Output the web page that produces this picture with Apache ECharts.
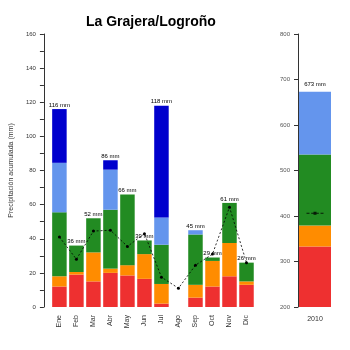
<!DOCTYPE html>
<html>
<head>
<meta charset="utf-8">
<script src="https://cdn.jsdelivr.net/npm/echarts@6/dist/echarts.min.js"></script>
<style>html,body{margin:0;padding:0;background:#fff}#c{width:350px;height:350px}</style>
</head>
<body>
<div id="c"></div>
<script>
var months = ['Ene','Feb','Mar','Abr','May','Jun','Jul','Ago','Sep','Oct','Nov','Dic'];
var redVals    = [12, 19, 15, 20, 18.5, 16.5, 2, 0, 5.5, 12, 18, 13];
var orangeVals = [6, 1.5, 17, 2.5, 6, 14.5, 11.5, 0, 7.5, 15, 19.5, 2];
var greenVals  = [37.5, 15.5, 20, 34.5, 41.5, 8, 23, 0, 29.5, 2, 23.5, 11];
var lblueVals  = [29, 0, 0, 23.5, 0, 0, 16, 0, 2.5, 0, 0, 0];
var dblueVals  = [31.5, 0, 0, 5.5, 0, 0, 65.5, 0, 0, 0, 0, 0];
var totals     = [116, 36, 52, 86, 66, 39, 118, 0, 45, 29, 61, 26];
var meanVals   = [41, 28, 44.5, 45, 35.5, 43, 17.5, 11, 24.5, 31, 58.5, 26];

var yearCat = ['2010'];
var yearRed = [333], yearOrange = [46], yearGreen = [156], yearLblue = [138];
var yearTotal = [673];
var yearMean = [406];

var C = {red:'#EE3030', orange:'#FF8C00', green:'#228B22', lblue:'#6495ED', dblue:'#0000CD'};
var FONT = 'Liberation Sans, Arial, sans-serif';

function stackBar(name, data, color, xi, yi) {
  return {name:name, type:'bar', stack:'s'+xi, data:data, xAxisIndex:xi, yAxisIndex:yi,
    barWidth: xi===0 ? 14.5 : 32, itemStyle:{color:color}, silent:true};
}

var chart = echarts.init(document.getElementById('c'), null, {renderer:'canvas'});
chart.setOption({
  animation:false,
  backgroundColor:'#fff',
  title:{text:'La Grajera/Logroño', left:81, top:10,
    textStyle:{fontFamily:FONT, fontSize:14, fontWeight:'bold', color:'#000'}},
  grid:[{left:40, top:34, width:215, height:273},
        {left:298, top:34, width:34, height:273}],
  xAxis:[
    {type:'category', gridIndex:0, data:months, axisLine:{show:false}, axisTick:{show:false},
     axisLabel:{rotate:90, fontSize:7, fontFamily:FONT, color:'#333', margin:8, interval:0}},
    {type:'category', gridIndex:1, data:yearCat, axisLine:{show:false}, axisTick:{show:false},
     axisLabel:{fontSize:7, fontFamily:FONT, color:'#333', margin:9}}
  ],
  yAxis:[
    {type:'value', gridIndex:0, min:0, max:160, interval:20, offset:7,
     name:'Precipitación acumulada (mm)', nameLocation:'middle', nameGap:25,
     nameTextStyle:{fontSize:7, fontFamily:FONT, color:'#333'},
     axisLine:{show:true, lineStyle:{color:'#333', width:1}},
     axisTick:{show:true, length:4, lineStyle:{color:'#333'}},
     minorTick:{show:true, splitNumber:2, length:4, lineStyle:{color:'#333'}},
     splitLine:{show:false},
     axisLabel:{fontSize:6, fontFamily:FONT, color:'#333', margin:8}},
    {type:'value', gridIndex:1, min:200, max:800, interval:100,
     axisLine:{show:true, lineStyle:{color:'#333', width:1}},
     axisTick:{show:true, length:4, lineStyle:{color:'#333'}},
     splitLine:{show:false},
     axisLabel:{fontSize:6, fontFamily:FONT, color:'#555', margin:8}}
  ],
  series:[
    stackBar('r', redVals, C.red, 0, 0),
    stackBar('o', orangeVals, C.orange, 0, 0),
    stackBar('g', greenVals, C.green, 0, 0),
    stackBar('lb', lblueVals, C.lblue, 0, 0),
    stackBar('db', dblueVals, C.dblue, 0, 0),
    {type:'bar', data:totals, barWidth:14.5, barGap:'-100%', xAxisIndex:0, yAxisIndex:0,
     itemStyle:{color:'rgba(0,0,0,0)'}, silent:true, z:1,
     label:{show:true, position:'top', distance:1, fontSize:6, fontFamily:FONT, color:'#000',
       formatter:function(p){return p.value>0 ? p.value+' mm' : '';}}},
    {type:'line', data:meanVals, xAxisIndex:0, yAxisIndex:0, symbol:'circle', symbolSize:3,
     itemStyle:{color:'#000'}, lineStyle:{color:'#000', width:0.8, type:[2,2]}, z:5, silent:true},
    stackBar('r2', yearRed, C.red, 1, 1),
    stackBar('o2', yearOrange, C.orange, 1, 1),
    stackBar('g2', yearGreen, C.green, 1, 1),
    stackBar('lb2', yearLblue, C.lblue, 1, 1),
    {type:'bar', data:yearTotal, barWidth:32, barGap:'-100%', xAxisIndex:1, yAxisIndex:1,
     itemStyle:{color:'rgba(0,0,0,0)'}, silent:true, z:1,
     label:{show:true, position:'top', distance:4, fontSize:6, fontFamily:FONT, color:'#000',
       formatter:'{c} mm'}},
    {type:'scatter', data:yearMean, xAxisIndex:1, yAxisIndex:1, z:5, silent:true,
     symbol:'path://M0,1h3v1h-3zM4.7,1h3v1h-3zM9.3,1h3v1h-3zM14,1h3v1h-3zM7,0h3v3h-3z',
     symbolSize:[17,3], itemStyle:{color:'#000'}}
  ]
});
</script>
</body>
</html>
